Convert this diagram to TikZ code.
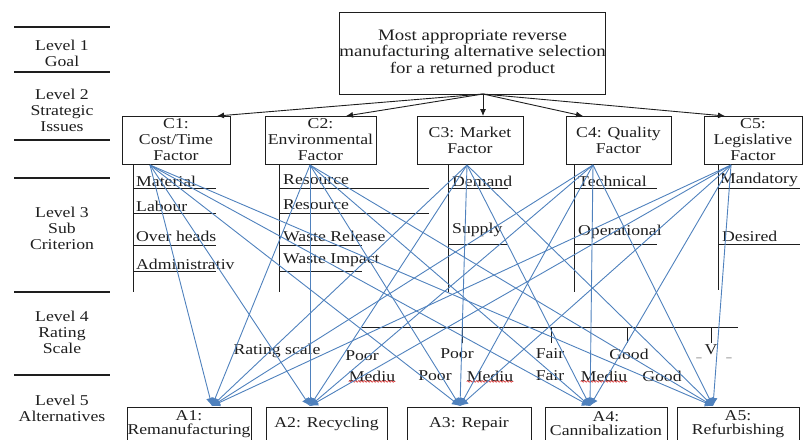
\documentclass[tikz,border=0pt]{standalone}
\usepackage{fontspec}
\setmainfont{Liberation Serif}[FakeStretch=1.18]
\usetikzlibrary{arrows.meta,decorations.pathmorphing}
\definecolor{lblue}{RGB}{79,129,189}
\definecolor{ink}{RGB}{30,30,30}
\begin{document}
\begin{tikzpicture}[x=1pt,y=-1pt,
  font=\fontsize{15}{16}\selectfont,
  lvl/.style={align=center,inner sep=0pt,text=ink},
  box/.style={draw=ink,line width=0.9pt,align=center,inner sep=0pt,text=ink},
  altbox/.style={box,font=\fontsize{15}{14}\selectfont},
  sub/.style={anchor=west,inner sep=0pt,text=ink},
  rate/.style={inner sep=0pt,text=ink},
  sep/.style={draw=ink,line width=1.6pt},
  stem/.style={draw=ink,line width=1pt},
  blk/.style={draw=ink,line width=0.9pt,-{Latex[length=7pt,width=6pt]}},
  blu/.style={draw=lblue,line width=0.9pt,-{Latex[length=8pt,width=8pt]}},
  wavy/.style={draw=red!80!black,line width=0.5pt,decorate,decoration={snake,amplitude=0.8pt,segment length=3pt}}
]
\useasboundingbox (0,0) rectangle (803,439);
\clip (0,0) rectangle (803,439);

% left level column
\foreach \yy in {27,72,140,178,292,375} \draw[sep] (14,\yy) -- (110,\yy);
\node[lvl] (l1) at (62,53) {Level 1\\Goal};
\node[lvl] (l2) at (62,110) {Level 2\\Strategic\\Issues};
\node[lvl] (l3) at (62,228) {Level 3\\Sub\\Criterion};
\node[lvl] (l4) at (62,332) {Level 4\\Rating\\Scale};
\node[lvl] (l5) at (62,408) {Level 5\\Alternatives};

% goal
\node[box,minimum width=259pt,minimum height=82pt,font=\fontsize{16}{16.5}\selectfont] (goal) at (472.5,53)
  {Most appropriate reverse\\manufacturing alternative selection\\for a returned product};

% criteria
\node[box,minimum width=108pt,minimum height=48pt] (c1) at (176,140) {C1:\\Cost/Time\\Factor};
\node[box,minimum width=111pt,minimum height=48pt] (c2) at (320.5,140) {C2:\\Environmental\\Factor};
\node[box,minimum width=106pt,minimum height=48pt] (c3) at (470,140) {C3: Market\\Factor};
\node[box,minimum width=105pt,minimum height=48pt] (c4) at (618.5,140) {C4: Quality\\Factor};
\node[box,minimum width=98pt,minimum height=48pt] (c5) at (753,140) {C5:\\Legislative\\Factor};

\coordinate (g0) at (483,94);
\coordinate (c1t) at (217,116);
\coordinate (c2t) at (346,116);
\coordinate (c3t) at (483,116);
\coordinate (c4t) at (583,116);
\coordinate (c5t) at (725,116);
\foreach \t in {c1t,c2t,c3t,c4t,c5t} \draw[blk] (g0) -- (\t);

% sub-criteria structures
\draw[stem] (133,164) -- (133,292);
\foreach \yy in {188,213,245,271} \draw[stem] (133,\yy) -- (216,\yy);
\node[sub] (s11) at (136,181) {Material};
\node[sub] (s12) at (136,206) {Labour};
\node[sub] (s13) at (136,236) {Over heads};
\node[sub] (s14) at (136,264) {Administrativ};

\draw[stem] (279,164) -- (279,292);
\draw[stem] (279,188) -- (429,188);
\draw[stem] (279,213) -- (429,213);
\draw[stem] (279,245) -- (362,245);
\draw[stem] (279,271) -- (362,271);
\node[sub] (s21) at (283,180) {Resource};
\node[sub] (s22) at (283,205) {Resource};
\node[sub] (s23) at (283,236) {Waste Release};
\node[sub] (s24) at (283,260) {Waste Impact};

\draw[stem] (448,164) -- (448,292);
\draw[stem] (448,188) -- (508,188);
\draw[stem] (448,244) -- (508,244);
\node[sub] (s31) at (452,181) {Demand};
\node[sub] (s32) at (452,230) {Supply};

\draw[stem] (574,164) -- (574,292);
\draw[stem] (574,188) -- (657,188);
\draw[stem] (574,244) -- (657,244);
\node[sub] (s41) at (578,181) {Technical};
\node[sub] (s42) at (578,232) {Operational};

\draw[stem] (718,164) -- (718,290);
\draw[stem] (718,188) -- (800,188);
\draw[stem] (718,244) -- (800,244);
\node[sub] (s51) at (720,180) {Mandatory};
\node[sub] (s52) at (722,236) {Desired};

% rating scale
\draw[stem] (362,327) -- (738,327);
\foreach \xx in {462,551,627,711} \draw[stem] (\xx,327) -- (\xx,343);
\node[rate] (rs) at (277,351) {Rating scale};
\node[rate] (p1) at (362,356) {Poor};
\node[rate] (m1) at (372,376) {Mediu};
\node[rate] (p2) at (435,376) {Poor};
\node[rate] (p3) at (457,354) {Poor};
\node[rate] (m2) at (490,376) {Mediu};
\node[rate] (f1) at (550,354) {Fair};
\node[rate] (f2) at (550,376) {Fair};
\node[rate] (g1) at (629,354) {Good};
\node[rate] (m3) at (604,376) {Mediu};
\node[rate] (g2) at (662,376) {Good};
\node[rate] (v1) at (711,350) {V};
\node[rate,font=\fontsize{9}{10}\selectfont] (u1) at (699,358) {\_};
\node[rate,font=\fontsize{9}{10}\selectfont] (u2) at (729,358) {\_};
\draw[wavy] (m1.south west) -- (m1.south east);
\draw[wavy] (m2.south west) -- (m2.south east);
\draw[wavy] (m3.south west) -- (m3.south east);

% alternatives
\node[altbox,minimum width=124pt,minimum height=34pt] (a1) at (189,424) {A1:\\Remanufacturing};
\node[altbox,minimum width=121pt,minimum height=34pt] (a2) at (326.5,424) {A2: Recycling};
\node[altbox,minimum width=124pt,minimum height=34pt] (a3) at (469,424) {A3: Repair};
\node[altbox,minimum width=122pt,minimum height=34pt] (a4) at (606,424) {A4:\\Cannibalization};
\node[altbox,minimum width=122pt,minimum height=34pt] (a5) at (738,424) {A5:\\Refurbishing};

% fan connectors
\coordinate (c1b) at (150,165);
\coordinate (c2b) at (310,165);
\coordinate (c3b) at (467,165);
\coordinate (c4b) at (593,165);
\coordinate (c5b) at (731,165);
\coordinate (a1t) at (212,406);
\coordinate (a2t) at (310,406);
\coordinate (a3t) at (460,406);
\coordinate (a4t) at (590,406);
\coordinate (a5t) at (713,406);
\foreach \s in {c1b,c2b,c3b,c4b,c5b}
  \foreach \t in {a1t,a2t,a3t,a4t,a5t}
    \draw[blu] (\s) -- (\t);
\end{tikzpicture}
\end{document}
